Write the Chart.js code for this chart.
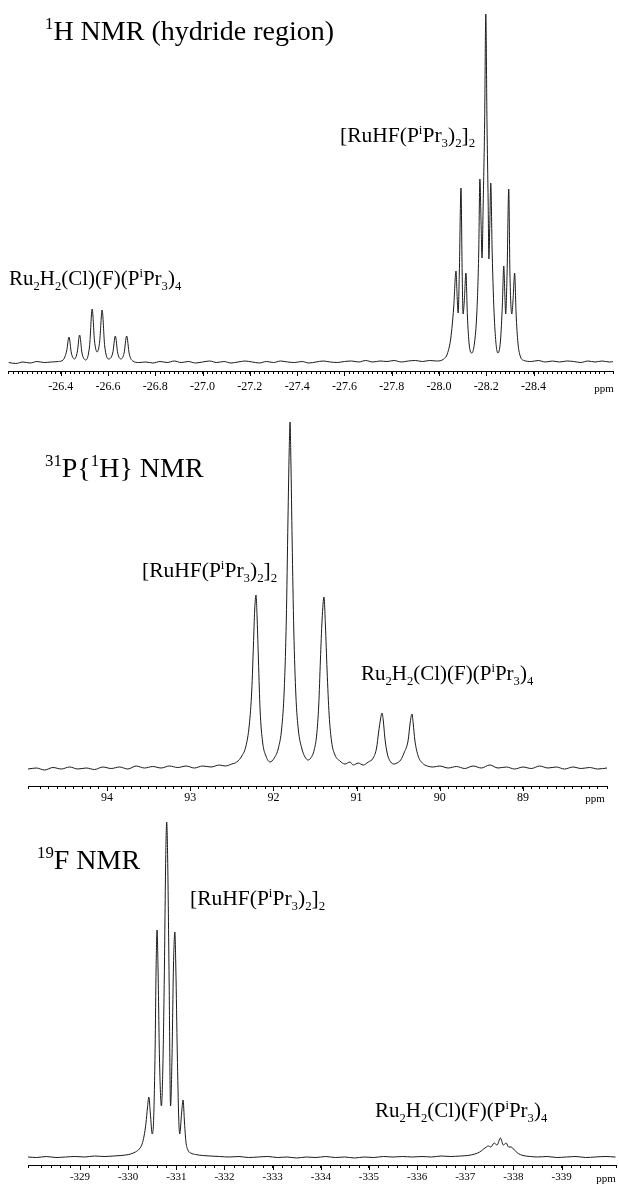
<!DOCTYPE html>
<html>
<head>
<meta charset="utf-8">
<script src="https://cdn.jsdelivr.net/npm/chart.js@4.4.0/dist/chart.umd.min.js"></script>
<style>
  html, body { margin: 0; padding: 0; background: #fff; }
  #wrap { position: relative; width: 619px; height: 1184px; }
  #wrap canvas { position: absolute; left: 0; top: 0; }
</style>
</head>
<body>
<div id="wrap">
  <canvas id="nmrH" width="619" height="1184"></canvas>
  <canvas id="nmrP" width="619" height="1184"></canvas>
  <canvas id="nmrF" width="619" height="1184"></canvas>
</div>
<script>
// 1H NMR, hydride region (ppm, intensity above baseline)
const hShift = [-26.18, -26.21, -26.24, -26.27, -26.30, -26.33, -26.36, -26.39, -26.41, -26.425,
  -26.435, -26.445, -26.458, -26.470, -26.480, -26.490, -26.506, -26.522, -26.533, -26.543,
  -26.554, -26.565, -26.575, -26.586, -26.603, -26.620, -26.631, -26.641, -26.655, -26.668,
  -26.679, -26.690, -26.705, -26.73, -26.76, -26.79, -26.82, -26.85, -26.88, -26.91,
  -26.94, -26.97, -27.00, -27.03, -27.06, -27.09, -27.12, -27.15, -27.18, -27.21,
  -27.24, -27.27, -27.30, -27.33, -27.36, -27.39, -27.42, -27.45, -27.48, -27.51,
  -27.54, -27.57, -27.60, -27.63, -27.66, -27.69, -27.72, -27.75, -27.78, -27.81,
  -27.84, -27.87, -27.90, -27.93, -27.96, -27.99, -28.02, -28.035, -28.050, -28.062,
  -28.072, -28.077, -28.081, -28.086, -28.093, -28.098, -28.102, -28.107, -28.114, -28.120,
  -28.128, -28.139, -28.150, -28.160, -28.168, -28.173, -28.178, -28.182, -28.187, -28.193,
  -28.198, -28.203, -28.208, -28.211, -28.215, -28.219, -28.225, -28.234, -28.249, -28.260,
  -28.268, -28.274, -28.279, -28.282, -28.288, -28.295, -28.300, -28.308, -28.313, -28.320,
  -28.326, -28.334, -28.345, -28.36, -28.39, -28.42, -28.45, -28.48, -28.51, -28.54,
  -28.57, -28.60, -28.63, -28.66, -28.69, -28.72, -28.74];
const hInt = [0.5, -0.5, 1, 0, 1.5, 0.5, 1, 1.5, 3, 12,
  26, 10, 4, 11, 28, 10, 3, 17, 54, 22,
  11, 22, 53, 17, 4, 10, 27, 10, 4, 10,
  27, 9, 2, 0.5, 1, 0, 1.5, 0.5, 2, 0.5,
  1.5, 0, 1, 2, 0.5, 1.5, 0, 1, 2, 1,
  0, 1.5, 0.5, 2, 1, 0.5, 1.5, 0, 1, 2,
  1, 0.5, 1.5, 2, 1, 2.5, 1, 2, 1.5, 2.5,
  1, 2, 2.5, 1.5, 2.5, 2, 4, 9, 25, 55,
  92, 65, 50, 90, 175, 90, 49, 62, 90, 48,
  18, 10, 20, 50, 110, 184, 140, 105, 160, 240,
  349, 240, 160, 104, 140, 180, 110, 45, 10, 22,
  58, 97, 65, 49, 90, 174, 90, 49, 62, 90,
  50, 20, 6, 2.5, 1.5, 2.5, 1, 2, 1, 2,
  1.5, 0.5, 2, 1, 2, 1, 1.5];
const hTicks = [-26.4, -26.6, -26.8, -27.0, -27.2, -27.4, -27.6, -27.8, -28.0, -28.2, -28.4];

// 31P{1H} NMR
const pShift = [94.95, 94.85, 94.75, 94.65, 94.55, 94.45, 94.35, 94.25, 94.15, 94.05,
  93.95, 93.85, 93.75, 93.65, 93.55, 93.45, 93.35, 93.25, 93.15, 93.05,
  92.95, 92.85, 92.75, 92.65, 92.58, 92.50, 92.44, 92.38, 92.33, 92.29,
  92.26, 92.24, 92.225, 92.209, 92.195, 92.18, 92.16, 92.13, 92.09, 92.04,
  91.99, 91.94, 91.90, 91.87, 91.845, 91.825, 91.81, 91.80, 91.79, 91.775,
  91.755, 91.73, 91.70, 91.66, 91.62, 91.584, 91.55, 91.51, 91.48, 91.455,
  91.435, 91.415, 91.392, 91.375, 91.355, 91.33, 91.30, 91.26, 91.20, 91.14,
  91.08, 91.04, 90.98, 90.92, 90.86, 90.80, 90.76, 90.735, 90.71, 90.695,
  90.68, 90.66, 90.63, 90.59, 90.55, 90.514, 90.47, 90.43, 90.38, 90.355,
  90.334, 90.32, 90.30, 90.26, 90.21, 90.15, 90.08, 90.00, 89.90, 89.80,
  89.70, 89.60, 89.50, 89.40, 89.30, 89.20, 89.10, 89.00, 88.90, 88.80,
  88.70, 88.60, 88.50, 88.40, 88.30, 88.20, 88.10, 87.99];
const pInt = [1, 2, 0, 2.5, 1, 3, 1, 2, 0.5, 3,
  1.5, 3, 1, 4, 2, 3.5, 2, 4, 2.5, 4,
  2, 4, 3, 5, 4, 6, 8, 14, 24, 45,
  80, 125, 160, 175, 150, 110, 60, 28, 14, 8,
  12, 22, 42, 80, 150, 250, 320, 348, 310, 230,
  140, 75, 40, 22, 13, 10, 12, 20, 35, 65,
  110, 150, 173, 145, 100, 55, 28, 15, 9, 6,
  8, 5, 7, 5, 8, 12, 22, 38, 52, 57,
  50, 32, 16, 8, 6, 7, 10, 17, 30, 48,
  56, 47, 30, 14, 7, 4, 3, 4, 2, 3.5,
  1.5, 4, 2, 5, 2, 3, 1, 3, 1.5, 4,
  2, 3, 1, 3, 1.5, 2.5, 1, 2];
const pTicks = [94, 93, 92, 91, 90, 89];

// 19F NMR
const fShift = [-327.92, -328.1, -328.3, -328.5, -328.7, -328.9, -329.1, -329.3, -329.5, -329.7,
  -329.85, -329.95, -330.05, -330.15, -330.23, -330.29, -330.33, -330.37, -330.40, -330.43,
  -330.46, -330.50, -330.53, -330.56, -330.58, -330.60, -330.62, -330.65, -330.69, -330.72,
  -330.75, -330.78, -330.80, -330.82, -330.85, -330.88, -330.91, -330.94, -330.97, -330.99,
  -331.02, -331.05, -331.07, -331.11, -331.14, -331.17, -331.20, -331.24, -331.30, -331.40,
  -331.55, -331.7, -331.9, -332.1, -332.3, -332.5, -332.7, -332.9, -333.1, -333.3,
  -333.5, -333.7, -333.9, -334.1, -334.3, -334.5, -334.7, -334.9, -335.1, -335.3,
  -335.5, -335.7, -335.9, -336.1, -336.3, -336.5, -336.7, -336.9, -337.05, -337.2,
  -337.3, -337.38, -337.44, -337.48, -337.53, -337.60, -337.66, -337.73, -337.79, -337.85,
  -337.90, -337.95, -338.02, -338.10, -338.2, -338.35, -338.5, -338.7, -338.9, -339.1,
  -339.3, -339.5, -339.7, -339.9, -340.12];
const fInt = [1, 0.5, 1.5, 0.5, 1, 1.5, 1, 2, 1.5, 2,
  2.5, 3, 4, 6, 9, 14, 22, 35, 50, 61,
  45, 24, 40, 110, 190, 228, 190, 100, 52, 90,
  180, 300, 336, 300, 180, 52, 100, 190, 226, 190,
  105, 40, 24, 45, 58, 35, 16, 8, 5, 3.5,
  2.5, 2, 1.5, 1, 1.5, 0.5, 1, 1.5, 0.5, 1,
  0, 1, 0.5, 1.5, 0.5, 1, 0, 1, 0.5, 1.5,
  1, 1.5, 1, 1.5, 1, 2, 1.5, 2, 2.5, 4,
  6, 9, 11, 12, 11, 15, 13, 20, 13, 15,
  11, 11, 8, 4.5, 2.5, 1.5, 1, 1.5, 0.5, 1,
  1.5, 0.5, 1, 1.5, 1];
const fTicks = [-329, -330, -331, -332, -333, -334, -335, -336, -337, -338, -339];

const SERIF = "'Liberation Serif', 'Times New Roman', serif";

const ruhf = [['[RuHF(P'], ['i', 'sup'], ['Pr'], ['3', 'sub'], [')'], ['2', 'sub'], [']'], ['2', 'sub']];
const ru2 = [['Ru'], ['2', 'sub'], ['H'], ['2', 'sub'], ['(Cl)(F)(P'], ['i', 'sup'], ['Pr'], ['3', 'sub'], [')'], ['4', 'sub']];

function findTick(list, v) {
    return list.find(function (t) { return Math.abs(t - v) < 1e-6; });
}

// labels with sub/superscripts, "ppm" and the longer major ticks
function overlay(items, tickList) {
    return {
        id: 'overlay',
        afterDraw(chart) {
            const ctx = chart.ctx;
            const xs = chart.scales.x;
            ctx.save();
            ctx.strokeStyle = '#000';
            ctx.lineWidth = 1;
            tickList.forEach(function (t) {
                const px = Math.round(xs.getPixelForValue(t)) + 0.5;
                ctx.beginPath();
                ctx.moveTo(px, xs.top);
                ctx.lineTo(px, xs.top + 5);
                ctx.stroke();
            });
            ctx.fillStyle = '#000';
            ctx.textBaseline = 'alphabetic';
            items.forEach(function (item) {
                let x = item.x;
                if (item.align === 'center') {
                    ctx.font = item.size + 'px ' + SERIF;
                    x -= ctx.measureText(item.parts.map(function (p) { return p[0]; }).join('')).width / 2;
                }
                item.parts.forEach(function (p) {
                    const kind = p[1];
                    const size = kind ? item.size * 0.6 : item.size;
                    const dy = kind === 'sub' ? item.size * 0.22 : (kind === 'sup' ? -item.size * 0.38 : 0);
                    ctx.font = size + 'px ' + SERIF;
                    ctx.fillText(p[0], x, item.y + dy);
                    x += ctx.measureText(p[0]).width;
                });
            });
            ctx.restore();
        }
    };
}

function spectrum(id, shifts, ints, tickList, axis, items) {
    const points = shifts.map(function (s, i) { return { x: s, y: ints[i] }; });
    return new Chart(document.getElementById(id), {
        type: 'line',
        data: {
            datasets: [{
                data: points,
                borderColor: '#1a1a1a',
                borderWidth: 1,
                pointRadius: 0,
                fill: false,
                cubicInterpolationMode: 'monotone',
            }],
        },
        options: {
            responsive: false,
            animation: false,
            events: [],
            layout: { padding: axis.pad },
            plugins: { legend: { display: false }, tooltip: { enabled: false } },
            scales: {
                x: {
                    type: 'linear',
                    reverse: true,
                    min: axis.min,
                    max: axis.max,
                    afterFit: function (scale) { scale.height = 19; },
                    border: { display: true, color: '#000', width: 1 },
                    grid: { drawOnChartArea: false, drawTicks: true, tickLength: 3, color: '#000' },
                    ticks: {
                        stepSize: axis.step,
                        autoSkip: false,
                        maxRotation: 0,
                        minRotation: 0,
                        padding: axis.tickPad,
                        color: '#000',
                        font: { family: SERIF, size: axis.font },
                        callback: function (v) {
                            const t = findTick(tickList, v);
                            return t === undefined ? '' : t.toFixed(axis.dec);
                        },
                    },
                },
                y: { display: false, min: axis.ymin, max: axis.ymax },
            },
        },
        plugins: [overlay(items, tickList)],
    });
}

spectrum('nmrH', hShift, hInt, hTicks,
    { min: -28.736, max: -26.177, step: 0.02, dec: 1, tickPad: 6, font: 12, ymin: -8, ymax: 363,
      pad: { left: 8, right: 2, top: 0, bottom: 794 } },
    [
        { x: 45, y: 40, size: 28, parts: [['1', 'sup'], ['H NMR (hydride region)']] },
        { x: 340, y: 142, size: 21.5, parts: ruhf },
        { x: 9, y: 285, size: 21, parts: ru2 },
        { x: 604, y: 392, size: 11, align: 'center', parts: [['ppm']] },
    ]);

spectrum('nmrP', pShift, pInt, pTicks,
    { min: 87.99, max: 94.95, step: 0.1, dec: 0, tickPad: 2, font: 12, ymin: -16, ymax: 370,
      pad: { left: 28, right: 12, top: 400, bottom: 379 } },
    [
        { x: 45, y: 477, size: 28, parts: [['31', 'sup'], ['P{'], ['1', 'sup'], ['H} NMR']] },
        { x: 142, y: 577, size: 21.5, parts: ruhf },
        { x: 361, y: 680, size: 21, parts: ru2 },
        { x: 595, y: 802, size: 11, align: 'center', parts: [['ppm']] },
    ]);

spectrum('nmrF', fShift, fInt, fTicks,
    { min: -340.13, max: -327.92, step: 0.2, dec: 0, tickPad: 3, font: 11, ymin: -7, ymax: 348,
      pad: { left: 28, right: 3, top: 810, bottom: 0 } },
    [
        { x: 37, y: 869, size: 28, parts: [['19', 'sup'], ['F NMR']] },
        { x: 190, y: 905, size: 21.5, parts: ruhf },
        { x: 375, y: 1117, size: 21, parts: ru2 },
        { x: 606, y: 1182, size: 11, align: 'center', parts: [['ppm']] },
    ]);
</script>
</body>
</html>
